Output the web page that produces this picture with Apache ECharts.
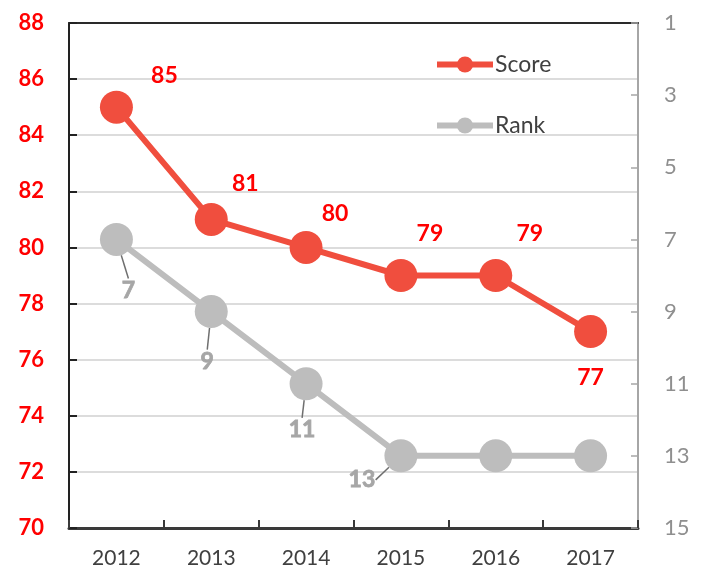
<!DOCTYPE html>
<html>
<head>
<meta charset="utf-8">
<script src="https://cdn.jsdelivr.net/npm/echarts@6/dist/echarts.min.js"></script>
<style>html,body{margin:0;padding:0;background:#fff}#c{width:704px;height:573px}</style>
</head>
<body>
<div id="c"></div>
<script>
const years = ['2012', '2013', '2014', '2015', '2016', '2017'];
const score = [85, 81, 80, 79, 79, 77];
const rank = [7, 9, 11, 13, 13, 13];
const rankLabelShown = [true, true, true, true, false, false];

// label placement (style, not data)
const scoreLabelShift = [[48, -32], [34, -36], [29, -34], [29, -42], [34, -42], [0, 46]];
const rankLabelShift = [[12, 51], [-4, 50], [-4, 46], [-39, 24], [0, 0], [0, 0]];

const FONT = 'Lato';
const rankLabelStyle = {
  position: 'inside', color: '#a6a6a6', fontSize: 23, fontWeight: 'bold', fontFamily: FONT,
  textBorderColor: '#a6a6a6', textBorderWidth: 0.8
};
const chart = echarts.init(document.getElementById('c'));
chart.setOption({
  animation: false,
  textStyle: { fontFamily: FONT },
  grid: { left: 69, right: 66, top: 23, bottom: 45 },
  legend: {
    orient: 'vertical',
    left: 434,
    top: 53,
    padding: 0,
    itemWidth: 56,
    itemHeight: 20,
    itemGap: 38,
    textStyle: { fontFamily: FONT, fontSize: 23, color: '#404040', padding: [0, 0, 0, -3] },
    lineStyle: { width: 6 },
    data: ['Score', 'Rank']
  },
  xAxis: [{
    type: 'category',
    data: years,
    boundaryGap: true,
    axisLine: { lineStyle: { color: '#3a3a3a', width: 3 } },
    axisTick: { show: true, inside: true, length: 8, lineStyle: { color: '#3a3a3a', width: 2 } },
    axisLabel: { color: '#404040', fontSize: 21, margin: 20, fontFamily: FONT }
  }, {
    type: 'category',
    data: years,
    position: 'top',
    axisLine: { lineStyle: { color: '#2a2a2a', width: 2 } },
    axisTick: { show: false },
    axisLabel: { show: false }
  }],
  yAxis: [{
    type: 'value',
    min: 70, max: 88, interval: 2,
    axisLine: { show: true, lineStyle: { color: '#222', width: 2 } },
    axisTick: { show: true, inside: true, length: 8, lineStyle: { color: '#222', width: 2 } },
    axisLabel: { color: '#ff0000', fontSize: 22, fontWeight: 'bold', margin: 25, fontFamily: FONT },
    splitLine: { show: true, lineStyle: { color: '#dcdcdc', width: 2 } }
  }, {
    type: 'value',
    inverse: true,
    min: 1, max: 15, interval: 2,
    position: 'right',
    axisLine: { show: true, lineStyle: { color: '#a6a6a6', width: 2 } },
    axisTick: { show: true, inside: true, length: 7, lineStyle: { color: '#a6a6a6', width: 1.5 } },
    axisLabel: { color: '#8f8f8f', fontSize: 22, margin: 26, fontFamily: FONT },
    splitLine: { show: false }
  }],
  series: [{
    name: 'Rank',
    type: 'line',
    yAxisIndex: 1,
    data: rank.map((v, i) => ({ value: v, label: Object.assign({ show: rankLabelShown[i] }, rankLabelStyle) })),
    symbol: 'circle',
    symbolSize: 33,
    itemStyle: { color: '#bdbdbd' },
    lineStyle: { color: '#bdbdbd', width: 6 },
    label: Object.assign({ show: true }, rankLabelStyle),
    labelLayout: function (p) {
      const s = rankLabelShift[p.dataIndex];
      return { dx: s[0], dy: s[1] };
    },
    labelLine: { show: true, lineStyle: { color: '#6f6f6f', width: 1.5 } }
  }, {
    name: 'Score',
    type: 'line',
    yAxisIndex: 0,
    data: score,
    symbol: 'circle',
    symbolSize: 33,
    itemStyle: { color: '#f04e3e' },
    lineStyle: { color: '#f04e3e', width: 6 },
    label: {
      show: true, position: 'inside',
      color: '#ff0000', fontSize: 23, fontWeight: 'bold', fontFamily: FONT
    },
    labelLayout: function (p) {
      const s = scoreLabelShift[p.dataIndex];
      return { dx: s[0], dy: s[1] };
    }
  }]
});
</script>
</body>
</html>
